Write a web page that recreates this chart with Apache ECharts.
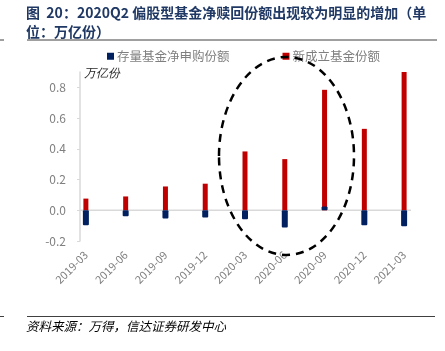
<!DOCTYPE html>
<html>
<head>
<meta charset="utf-8">
<script src="https://cdn.jsdelivr.net/npm/echarts@6/dist/echarts.min.js"></script>
<style>
  html, body { margin: 0; padding: 0; background: #fff; }
  #chart { width: 445px; height: 351px; }
</style>
</head>
<body>
<div id="chart"></div>
<script>
// 季度
const categories = ['2019-03', '2019-06', '2019-09', '2019-12', '2020-03', '2020-06', '2020-09', '2020-12', '2021-03']
// 存量基金净申购份额（万亿份）
const netSubscribe = [-0.097, -0.039, -0.054, -0.047, -0.058, -0.112, 0.025, -0.097, -0.104]
// 新成立基金份额（万亿份）
const newFunds = [0.076, 0.09, 0.155, 0.173, 0.383, 0.333, 0.784, 0.53, 0.9]
const yTicks = [-0.2, 0, 0.2, 0.4, 0.6, 0.8]

const FONT = '"Noto Sans CJK SC", "Noto Sans", sans-serif'
const chart = echarts.init(document.getElementById('chart'))

const option = {
  animation: false,
  backgroundColor: '#fff',
  textStyle: {fontFamily: FONT},
  title: {
    text: '图  20：2020Q2 偏股型基金净赎回份额出现较为明显的增加（单\n位：万亿份）',
    left: 26,
    top: 3,
    padding: 0,
    textStyle: {
      color: '#1f3864',
      fontSize: 14,
      fontWeight: 'bold',
      lineHeight: 19,
      fontFamily: FONT
    }
  },
  legend: {
    left: 102,
    top: 45,
    itemWidth: 7,
    itemHeight: 7,
    itemGap: 53,
    icon: 'rect',
    textStyle: {color: '#7f7f7f', fontSize: 12.5, padding: [0, 0, 0, -2]},
    data: ['存量基金净申购份额', '新成立基金份额']
  },
  grid: {
    left: 66,
    right: 21,
    top: 72,
    bottom: 110,
    containLabel: false
  },
  xAxis: [
    {
      type: 'category',
      data: categories,
      boundaryGap: true,
      axisLine: {show: false, onZero: false},
      axisTick: {show: false},
      axisLabel: {
        rotate: 45,
        margin: 12,
        color: '#7f7f7f',
        fontSize: 11,
        interval: 0
      }
    },
    {
      type: 'category',
      data: categories,
      show: false,
      boundaryGap: true
    }
  ],
  yAxis: {
    type: 'value',
    min: -0.2,
    max: 0.9,
    offset: -14,
    axisLine: {show: true, lineStyle: {color: '#d9d9d9', width: 1.5}},
    axisTick: {show: true, length: 3, lineStyle: {color: '#d9d9d9'}, customValues: yTicks},
    axisLabel: {
      color: '#7f7f7f',
      fontSize: 12,
      margin: 14,
      customValues: yTicks,
      formatter: v => v.toFixed(1)
    },
    splitLine: {show: false}
  },
  series: [
    {
      name: '新成立基金份额',
      type: 'bar',
      xAxisIndex: 0,
      barWidth: 5,
      data: newFunds,
      itemStyle: {color: '#c00000'}
    },
    {
      name: '存量基金净申购份额',
      type: 'bar',
      xAxisIndex: 1,
      barWidth: 6,
      data: netSubscribe,
      itemStyle: {color: '#002060', borderRadius: 1}
    }
  ]
}
chart.setOption(option)

// 零值线、分隔线、虚线椭圆、资料来源
const zeroY = chart.convertToPixel({yAxisIndex: 0}, 0)
chart.setOption({
  graphic: [
    {type: 'line', shape: {x1: 80, y1: zeroY, x2: 411, y2: zeroY}, style: {stroke: '#d9d9d9', lineWidth: 1.5}, z: 1},
    {type: 'line', shape: {x1: 27, y1: 40, x2: 437, y2: 40}, style: {stroke: '#404040', lineWidth: 1}},
    {type: 'line', shape: {x1: 0, y1: 40, x2: 4, y2: 40}, style: {stroke: '#404040', lineWidth: 1}},
    {type: 'line', shape: {x1: 27, y1: 316.5, x2: 435, y2: 316.5}, style: {stroke: '#404040', lineWidth: 1}},
    {type: 'line', shape: {x1: 0, y1: 316.5, x2: 4, y2: 316.5}, style: {stroke: '#404040', lineWidth: 1}},
    {
      type: 'ellipse',
      shape: {cx: 286.5, cy: 156, rx: 67.5, ry: 99},
      style: {fill: null, stroke: '#000', lineWidth: 2.5, lineDash: [8, 6]},
      z: 10
    },
    {
      type: 'text',
      left: 84,
      top: 68,
      style: {text: '万亿份', fill: '#262626', fontSize: 12, fontStyle: 'italic', font: 'italic 12px ' + FONT}
    },
    {
      type: 'text',
      left: 26,
      top: 320,
      style: {text: '资料来源：万得，信达证券研发中心', fill: '#000', font: 'italic 12.5px ' + FONT}
    }
  ]
})
</script>
</body>
</html>
